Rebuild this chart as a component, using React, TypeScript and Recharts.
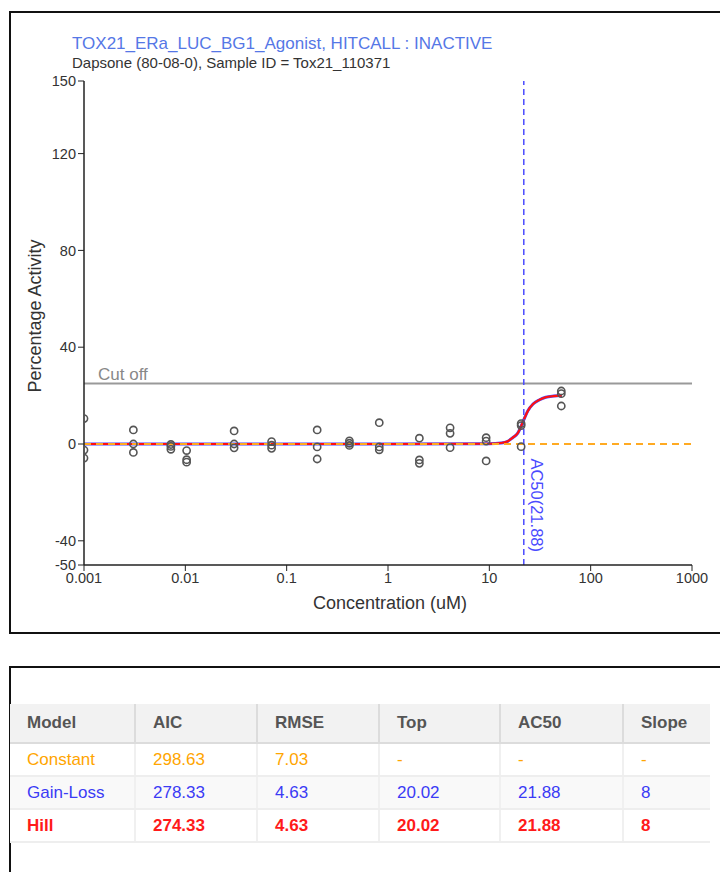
import React from "react";
import {
  ComposedChart,
  Line,
  Scatter,
  XAxis,
  YAxis,
  ReferenceLine,
} from "recharts";

// ── data ──

const TITLE = "TOX21_ERa_LUC_BG1_Agonist, HITCALL : INACTIVE";
const SUBTITLE = "Dapsone (80-08-0), Sample ID = Tox21_110371";

const CONC = [
  0.001, 0.00307, 0.0072, 0.0103, 0.0303, 0.071, 0.2, 0.416, 0.82, 2.04, 4.1,
  9.3, 20.6, 51.3,
];
const RESP = [
  [10.5, -2.5, -5.8],
  [5.8, 0, -3.5],
  [-0.2, -1.0, -2.2],
  [-2.7, -6.5, -7.5],
  [5.4, 0, -1.6],
  [1.0, -0.5, -1.8],
  [5.8, -1.2, -6.2],
  [1.3, 0.3, -0.6],
  [8.8, -1.2, -2.4],
  [2.4, -6.6, -8.0],
  [6.7, 4.4, -1.5],
  [2.6, 1.2, -7.0],
  [8.4, 7.6, -1.1],
  [21.9, 20.8, 15.7],
];

const FIT_CONC = [0.001, 1, 10, 13, 15, 17, 19, 21.88, 24, 27, 31, 36, 43, 52];
const HILL_RESP = [0, 0, 0.1, 0.4, 1.0, 2.6, 4.4, 10, 13.7, 16.5, 18.2, 19.3, 19.8, 20.02];
const GAIN_LOSS_RESP = [0, 0, 0.1, 0.4, 1.0, 2.6, 4.4, 10, 13.7, 16.5, 18.2, 19.3, 19.8, 20.02];

const CONSTANT_CONC = [0.001, 1000];
const CONSTANT_RESP = [0, 0];

const CUTOFF = 25;
const AC50_VALUE = 21.88;

const X_TICKS = [0.001, 0.01, 0.1, 1, 10, 100, 1000];
const Y_TICKS = [-50, -40, 0, 40, 80, 120, 150];

const TABLE_HEAD = ["Model", "AIC", "RMSE", "Top", "AC50", "Slope"];
const MODELS = ["Constant", "Gain-Loss", "Hill"];
const AIC = ["298.63", "278.33", "274.33"];
const RMSE = ["7.03", "4.63", "4.63"];
const TOP = ["-", "20.02", "20.02"];
const AC50 = ["-", "21.88", "21.88"];
const SLOPE = ["-", "8", "8"];

const MODEL_COLORS = ["#ffa500", "#3b3bf5", "#ff1a1a"];
const COL_WIDTHS = [125, 122, 122, 121, 123, 87];

const points = CONC.flatMap((c, i) => RESP[i].map((r) => ({ conc: c, resp: r })));
const hillData = FIT_CONC.map((c, i) => ({ conc: c, resp: HILL_RESP[i] }));
const gainLossData = FIT_CONC.map((c, i) => ({ conc: c, resp: GAIN_LOSS_RESP[i] }));
const constantData = CONSTANT_CONC.map((c, i) => ({ conc: c, resp: CONSTANT_RESP[i] }));

const FONT = "'Liberation Sans', Arial, sans-serif";

function Ring(props: any) {
  const { cx, cy } = props;
  if (cx == null || cy == null) return null;
  return <circle cx={cx} cy={cy} r={3.6} fill="none" stroke="#555" strokeWidth={1.6} />;
}

function YLabel({ viewBox }: any) {
  const x = viewBox.x + 7;
  const y = viewBox.y + viewBox.height / 2 - 7;
  return (
    <text x={x} y={y} transform={`rotate(-90 ${x} ${y})`} textAnchor="middle" fill="#333" fontSize={18}>
      Percentage Activity
    </text>
  );
}

function XLabel({ viewBox }: any) {
  return (
    <text x={viewBox.x + viewBox.width / 2 + 2} y={viewBox.y + 44} textAnchor="middle" fill="#333" fontSize={18}>
      Concentration (uM)
    </text>
  );
}

function CutLabel({ viewBox }: any) {
  return (
    <text x={viewBox.x + 14} y={viewBox.y - 4} fill="#888" fontSize={17}>
      Cut off
    </text>
  );
}

function AcLabel({ viewBox }: any) {
  const x = viewBox.x + 7;
  const y = viewBox.y + viewBox.height - 13;
  return (
    <text x={x} y={y} transform={`rotate(90 ${x} ${y})`} textAnchor="end" fill="#4b4bff" fontSize={16.5}>
      {`AC50(${AC50_VALUE})`}
    </text>
  );
}

function FitTable() {
  const rows = MODELS.map((m, i) => [m, AIC[i], RMSE[i], TOP[i], AC50[i], SLOPE[i]]);
  return (
    <table
      style={{
        position: "absolute",
        left: 2,
        top: 696,
        borderCollapse: "collapse",
        tableLayout: "fixed",
        width: 700,
        fontSize: 17,
        fontFamily: FONT,
      }}
    >
      <colgroup>
        {COL_WIDTHS.map((w, i) => (
          <col key={i} style={{ width: w }} />
        ))}
      </colgroup>
      <thead>
        <tr style={{ background: "#f2f2f2", height: 39 }}>
          {TABLE_HEAD.map((h, i) => (
            <th
              key={h}
              style={{
                textAlign: "left",
                padding: "0 0 0 17px",
                color: "#555",
                fontWeight: "bold",
                borderBottom: "2px solid #dcdcdc",
                borderLeft: i ? "2px solid #dcdcdc" : "none",
              }}
            >
              {h}
            </th>
          ))}
        </tr>
      </thead>
      <tbody>
        {rows.map((r, ri) => (
          <tr key={ri} style={{ height: 33, background: ri === 1 ? "#f9f9f9" : "#fff" }}>
            {r.map((v, ci) => (
              <td
                key={ci}
                style={{
                  padding: "0 0 0 17px",
                  color: MODEL_COLORS[ri],
                  fontWeight: ri === 2 ? "bold" : "normal",
                  borderBottom: "2px solid #eee",
                  borderLeft: ci ? "2px solid #f0f0f0" : "none",
                }}
              >
                {v}
              </td>
            ))}
          </tr>
        ))}
      </tbody>
    </table>
  );
}

export default function App() {
  return (
    <div
      style={{
        position: "relative",
        width: 720,
        height: 864,
        overflow: "hidden",
        fontFamily: FONT,
        background: "#fff",
      }}
    >
      <div
        style={{
          position: "absolute",
          left: 1,
          top: 3,
          width: 740,
          height: 623,
          border: "2px solid #111",
          boxSizing: "border-box",
        }}
      />
      <div style={{ position: "absolute", left: 64, top: 27, fontSize: 17, lineHeight: 1, color: "#5577e6", whiteSpace: "nowrap" }}>
        {TITLE}
      </div>
      <div style={{ position: "absolute", left: 64, top: 47, fontSize: 15, lineHeight: 1, color: "#333", whiteSpace: "nowrap" }}>
        {SUBTITLE}
      </div>
      <div style={{ position: "absolute", left: 0, top: 0 }}>
        <ComposedChart width={706} height={640} margin={{ top: 73, right: 22, bottom: 53, left: 26 }}>
          <XAxis
            dataKey="conc"
            type="number"
            scale="log"
            domain={[0.001, 1000]}
            ticks={X_TICKS}
            interval={0}
            allowDataOverflow
            tickFormatter={(v: number) => String(v)}
            tick={{ fill: "#333", fontSize: 14.5 }}
            tickLine={{ stroke: "#222" }}
            axisLine={{ stroke: "#222", strokeWidth: 1.5 }}
            tickSize={6}
            height={30}
            label={<XLabel />}
          />
          <YAxis
            type="number"
            domain={[-50, 150]}
            ticks={Y_TICKS}
            interval={0}
            tick={{ fill: "#333", fontSize: 14.5 }}
            tickLine={{ stroke: "#222" }}
            axisLine={{ stroke: "#222", strokeWidth: 1.5 }}
            tickSize={6}
            width={50}
            label={<YLabel />}
          />
          <ReferenceLine y={CUTOFF} stroke="#999" strokeWidth={2} label={<CutLabel />} />
          <Line
            data={gainLossData}
            dataKey="resp"
            type="monotone"
            stroke="#4b4bff"
            strokeWidth={3}
            dot={false}
            activeDot={false}
            isAnimationActive={false}
          />
          <Line
            data={hillData}
            dataKey="resp"
            type="monotone"
            stroke="#ff1010"
            strokeWidth={2.2}
            dot={false}
            activeDot={false}
            isAnimationActive={false}
          />
          <Line
            data={constantData}
            dataKey="resp"
            type="linear"
            stroke="#ffaa22"
            strokeWidth={2}
            strokeDasharray="7 5"
            dot={false}
            activeDot={false}
            isAnimationActive={false}
          />
          <Scatter data={points} dataKey="resp" shape={<Ring />} isAnimationActive={false} />
          <ReferenceLine
            x={AC50_VALUE}
            stroke="#4b4bff"
            strokeWidth={1.5}
            strokeDasharray="6 4"
            label={<AcLabel />}
          />
        </ComposedChart>
      </div>
      <div
        style={{
          position: "absolute",
          left: 1,
          top: 658,
          width: 740,
          height: 300,
          border: "2px solid #111",
          boxSizing: "border-box",
        }}
      />
      <FitTable />
    </div>
  );
}
